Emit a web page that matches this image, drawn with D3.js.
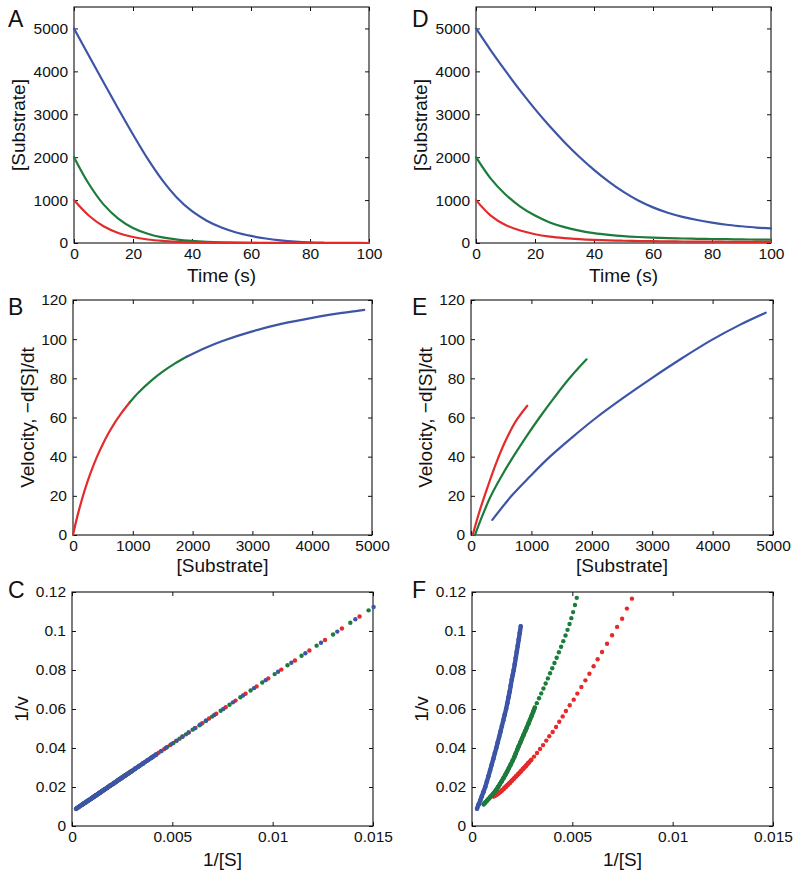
<!DOCTYPE html>
<html><head><meta charset="utf-8">
<script src="https://cdn.jsdelivr.net/npm/d3@7"></script>
<style>
body{margin:0;background:#fff}
text{font-family:"Liberation Sans",Arial,Helvetica,sans-serif;fill:#111}
</style>
</head><body><svg id="c" width="800" height="876"></svg>
<script>
const BLUE="#3d55a6", GREEN="#1c7c3c", RED="#e52a2b";

// ---------- Panel A / D : time courses ----------
const time = [0,5,10,15,20,25,30,35,40,45,50,55,60,65,70,75,80,85,90,95,100];
const aBlue  = [5000,4370,3745,3130,2530,1960,1460,1050,740,520,360,245,165,105,62,32,14,6,2,1,0];
const aGreen = [2000,1380,900,570,350,215,130,80,48,28,16,9,5,3,1,0,0,0,0,0,0];
const aRed   = [1000,640,390,235,140,82,48,28,16,9,5,3,1,0,0,0,0,0,0,0,0];
const dBlue  = [5000,4490,4010,3550,3120,2720,2350,2010,1705,1430,1190,990,830,705,610,535,475,425,390,360,340];
const dGreen = [2000,1500,1130,850,640,480,370,290,230,190,160,140,125,114,105,98,93,88,84,80,78];
const dRed   = [1000,640,420,290,205,150,115,90,72,60,52,46,42,38,35,33,31,29,28,26,25];

// ---------- Panel B : velocity vs substrate (one curve, three colours) ----------
const bRedS   = [0,50,100,200,300,400,500,600,700,800,950];
const bRedV   = [0,6.7,12.7,23.3,32.2,39.9,46.5,52.3,57.4,61.9,67.8];
const bGreenS = [950,1100,1300,1500,1700,1900];
const bGreenV = [67.8,72.9,78.6,83.4,87.5,91.0];
const bBlueS  = [1900,2200,2500,3000,3500,4000,4500,4870];
const bBlueV  = [91.0,95.4,99.1,104.0,107.9,110.9,113.4,115.0];

// ---------- Panel E ----------
const eRedS   = [28,150,280,420,570,740,932];
const eRedV   = [0,13,25,37,48,58,66];
const eGreenS = [66,190,330,505,700,910,1135,1375,1630,1913];
const eGreenV = [0,10,20,30,40,50,60,70,80,89.7];
const eBlueS  = [353,672,980,1307,1680,2078,2520,2988,3480,3980,4450,4879];
const eBlueV  = [7.7,20,30,40,50,60,70,80,90,99.5,107.3,113.5];

// ---------- Panel C : Lineweaver-Burk (1/[S], 1/v) ----------
const cRedX = [0.00100,0.00110,0.00120,0.00132,0.00145,0.00159,0.00174,0.00190,0.00207,0.00225,0.00244,0.00264,0.00285,0.00307,0.00330,0.00354,0.00379,0.00405,0.00432,0.00460,0.00489,0.00519,0.00550,0.00582,0.00615,0.00649,0.00683,0.00719,0.00766,0.00815,0.00865,0.00920,0.00978,0.01043,0.01111,0.01183,0.01261,0.01345,0.01433];
const cRedY = [0.0144,0.0151,0.0158,0.0166,0.0175,0.0185,0.0195,0.0207,0.0218,0.0231,0.0244,0.0258,0.0273,0.0288,0.0304,0.0321,0.0339,0.0357,0.0376,0.0395,0.0415,0.0436,0.0458,0.0480,0.0503,0.0527,0.0551,0.0576,0.0609,0.0643,0.0678,0.0716,0.0757,0.0802,0.0849,0.0900,0.0954,0.1013,0.1074];
const cGreenX = [0.00050,0.00055,0.00061,0.00068,0.00076,0.00085,0.00095,0.00106,0.00118,0.00131,0.00145,0.00160,0.00176,0.00193,0.00211,0.00230,0.00250,0.00271,0.00293,0.00316,0.00340,0.00365,0.00391,0.00418,0.00446,0.00475,0.00505,0.00536,0.00568,0.00601,0.00635,0.00666,0.00698,0.00741,0.00785,0.00839,0.00890,0.00948,0.01010,0.01074,0.01144,0.01219,0.01301,0.01387,0.01478];
const cGreenY = [0.0109,0.0112,0.0117,0.0121,0.0127,0.0133,0.0140,0.0148,0.0156,0.0165,0.0175,0.0186,0.0197,0.0209,0.0221,0.0235,0.0249,0.0263,0.0279,0.0295,0.0311,0.0329,0.0347,0.0366,0.0385,0.0406,0.0426,0.0448,0.0470,0.0494,0.0517,0.0539,0.0561,0.0591,0.0622,0.0660,0.0695,0.0736,0.0779,0.0824,0.0873,0.0925,0.0982,0.1042,0.1106];
const cBlueX = [0.00020,0.00024,0.00028,0.00033,0.00038,0.00044,0.00050,0.00057,0.00064,0.00072,0.00080,0.00089,0.00098,0.00108,0.00118,0.00129,0.00140,0.00152,0.00164,0.00177,0.00190,0.00204,0.00218,0.00233,0.00248,0.00264,0.00280,0.00297,0.00315,0.00334,0.00354,0.00375,0.00397,0.00420,0.00444,0.00469,0.00495,0.00522,0.00551,0.00581,0.00612,0.00640,0.00669,0.00709,0.00754,0.00802,0.00852,0.00907,0.00965,0.01027,0.01093,0.01163,0.01241,0.01322,0.01412,0.01503];
const cBlueY = [0.0088,0.0091,0.0094,0.0097,0.0101,0.0105,0.0109,0.0114,0.0119,0.0124,0.0130,0.0136,0.0142,0.0149,0.0156,0.0164,0.0172,0.0180,0.0188,0.0198,0.0207,0.0216,0.0226,0.0237,0.0247,0.0258,0.0269,0.0281,0.0294,0.0307,0.0321,0.0336,0.0351,0.0367,0.0384,0.0401,0.0420,0.0438,0.0459,0.0480,0.0501,0.0521,0.0541,0.0569,0.0600,0.0634,0.0669,0.0707,0.0748,0.0791,0.0837,0.0886,0.0940,0.0997,0.1060,0.1123];

// ---------- Panel F ----------
const fBlueX = [0.00025,0.00033,0.00041,0.00049,0.00057,0.00066,0.00074,0.00082,0.00090,0.00098,0.00106,0.00114,0.00121,0.00128,0.00135,0.00142,0.00149,0.00156,0.00163,0.00170,0.00176,0.00182,0.00188,0.00193,0.00198,0.00203,0.00208,0.00213,0.00218,0.00223,0.00228,0.00233,0.00238,0.00243];
const fBlueY = [0.0089,0.0110,0.0131,0.0153,0.0175,0.0200,0.0228,0.0256,0.0285,0.0314,0.0344,0.0374,0.0400,0.0428,0.0456,0.0484,0.0513,0.0542,0.0571,0.0600,0.0630,0.0660,0.0690,0.0720,0.0750,0.0775,0.0800,0.0830,0.0862,0.0893,0.0925,0.0957,0.0990,0.1024];
const fGreenX = [0.00058,0.00066,0.00074,0.00082,0.00090,0.00098,0.00106,0.00114,0.00122,0.00130,0.00139,0.00148,0.00157,0.00166,0.00175,0.00184,0.00193,0.00202,0.00211,0.00218,0.00225,0.00233,0.00241,0.00249,0.00257,0.00265,0.00273,0.00281,0.00289,0.00297,0.00305,0.00313,0.00323,0.00334,0.00345,0.00356,0.00367,0.00378,0.00389,0.00400,0.00411,0.00422,0.00433,0.00444,0.00455,0.00466,0.00476,0.00486,0.00495,0.00504,0.00513,0.00522];
const fGreenY = [0.0111,0.0120,0.0129,0.0138,0.0147,0.0156,0.0166,0.0176,0.0187,0.0200,0.0215,0.0230,0.0246,0.0262,0.0279,0.0297,0.0315,0.0334,0.0354,0.0372,0.0390,0.0410,0.0429,0.0448,0.0467,0.0486,0.0505,0.0525,0.0545,0.0565,0.0586,0.0607,0.0630,0.0655,0.0680,0.0705,0.0731,0.0757,0.0783,0.0809,0.0836,0.0863,0.0891,0.0919,0.0948,0.0977,0.1006,0.1036,0.1066,0.1097,0.1133,0.1170];
const fRedX = [0.00108,0.00116,0.00124,0.00132,0.00141,0.00150,0.00159,0.00168,0.00178,0.00188,0.00198,0.00209,0.00220,0.00231,0.00243,0.00255,0.00268,0.00281,0.00295,0.00309,0.00324,0.00339,0.00354,0.00370,0.00385,0.00402,0.00419,0.00435,0.00452,0.00468,0.00487,0.00507,0.00525,0.00545,0.00565,0.00585,0.00606,0.00626,0.00648,0.00673,0.00698,0.00723,0.00748,0.00772,0.00797];
const fRedY = [0.0152,0.0157,0.0162,0.0168,0.0175,0.0183,0.0192,0.0201,0.0211,0.0221,0.0232,0.0243,0.0255,0.0267,0.0280,0.0294,0.0308,0.0323,0.0339,0.0356,0.0374,0.0395,0.0415,0.0438,0.0460,0.0482,0.0508,0.0535,0.0562,0.0590,0.0619,0.0648,0.0679,0.0713,0.0747,0.0781,0.0819,0.0855,0.0892,0.0935,0.0978,0.1021,0.1063,0.1115,0.1166];

// ---------- tick labels ----------
const timeTicks = [0,20,40,60,80,100];
const timeTickLabels = ["0","20","40","60","80","100"];
const subTicks = [0,1000,2000,3000,4000,5000];
const subTickLabels = ["0","1000","2000","3000","4000","5000"];
const velTicks = [0,20,40,60,80,100,120];
const velTickLabels = ["0","20","40","60","80","100","120"];
const invSTicks = [0,0.005,0.01,0.015];
const invSTickLabels = ["0","0.005","0.01","0.015"];
const invVTicks = [0,0.02,0.04,0.06,0.08,0.1,0.12];
const invVTickLabels = ["0","0.02","0.04","0.06","0.08","0.1","0.12"];

const svg = d3.select("#c");
const zip = (xs, ys) => xs.map((x,i)=>[x, ys[i]]);
const R = 2.2;

function panel(o){
  const [x0,x1,y0,y1] = o.box;
  const x = d3.scaleLinear().domain(o.xd).range([x0,x1]);
  const y = d3.scaleLinear().domain(o.yd).range([y1,y0]);
  const g = svg.append("g");
  const TS = 4;
  const fmt = (ticks, labels) => (d => labels[ticks.indexOf(d)]);
  const ax = (gen, tr) => g.append("g").attr("transform", tr).call(gen)
      .call(s => s.select(".domain").remove())
      .call(s => s.selectAll("line").attr("stroke","#111"))
      .call(s => s.selectAll("text").attr("font-size","15.5px").attr("fill","#111")
          .attr("font-family","Liberation Sans, Arial, sans-serif"));
  ax(d3.axisBottom(x).tickValues(o.xt).tickFormat(fmt(o.xt,o.xl)).tickSize(-TS).tickPadding(5), `translate(0,${y1})`);
  ax(d3.axisTop(x).tickValues(o.xt).tickFormat("").tickSize(-TS), `translate(0,${y0})`);
  ax(d3.axisLeft(y).tickValues(o.yt).tickFormat(fmt(o.yt,o.yl)).tickSize(-TS).tickPadding(6), `translate(${x0},0)`);
  ax(d3.axisRight(y).tickValues(o.yt).tickFormat("").tickSize(-TS), `translate(${x1},0)`);
  g.append("rect").attr("x",x0).attr("y",y0).attr("width",x1-x0).attr("height",y1-y0)
    .attr("fill","none").attr("stroke","#111").attr("stroke-width",1.1);

  const line = d3.line().x(d=>x(d[0])).y(d=>y(d[1])).curve(d3.curveCatmullRom.alpha(0.5));
  (o.lines||[]).forEach(s => {
    g.append("path").datum(s.data).attr("d", line).attr("fill","none")
      .attr("stroke", s.color).attr("stroke-width", 2.2).attr("stroke-linejoin","round").attr("stroke-linecap","round");
  });
  (o.dots||[]).forEach(s => {
    // where consecutive samples overlap on screen, fill the gap so the run reads as a solid band
    const px = s.data.map(d => [x(d[0]), y(d[1])]);
    const segs = [];
    for (let i = 1; i < px.length; i++) {
      if (Math.hypot(px[i][0]-px[i-1][0], px[i][1]-px[i-1][1]) < s.band) segs.push([px[i-1], px[i]]);
    }
    g.append("g").selectAll("line").data(segs).join("line")
      .attr("x1",d=>d[0][0]).attr("y1",d=>d[0][1]).attr("x2",d=>d[1][0]).attr("y2",d=>d[1][1])
      .attr("stroke", s.color).attr("stroke-width", 2*R).attr("stroke-linecap","round");
    g.append("g").selectAll("circle").data(s.data).join("circle")
      .attr("cx", d=>x(d[0])).attr("cy", d=>y(d[1])).attr("r", R).attr("fill", s.color);
  });
  // labels
  g.append("text").attr("x",(x0+x1)/2).attr("y",o.xLabelY).attr("text-anchor","middle")
    .attr("font-size","19px").text(o.xLabel);
  g.append("text").attr("transform",`translate(${o.yLabelX},${(y0+y1)/2}) rotate(-90)`)
    .attr("text-anchor","middle").attr("font-size","19px").text(o.yLabel);
  g.append("text").attr("x",o.letter[1]).attr("y",o.letter[2]).attr("font-size","23px").text(o.letter[0]);
}

panel({box:[74,369,7,243], xd:[0,100], yd:[0,5500], xt:timeTicks, xl:timeTickLabels, yt:subTicks, yl:subTickLabels,
  xLabel:"Time (s)", xLabelY:282, yLabel:"[Substrate]", yLabelX:25, letter:["A",8,27],
  lines:[{data:zip(time,aBlue),color:BLUE},{data:zip(time,aGreen),color:GREEN},{data:zip(time,aRed),color:RED}]});
panel({box:[476,771,7,243], xd:[0,100], yd:[0,5500], xt:timeTicks, xl:timeTickLabels, yt:subTicks, yl:subTickLabels,
  xLabel:"Time (s)", xLabelY:282, yLabel:"[Substrate]", yLabelX:427, letter:["D",412,27],
  lines:[{data:zip(time,dBlue),color:BLUE},{data:zip(time,dGreen),color:GREEN},{data:zip(time,dRed),color:RED}]});
panel({box:[73,372,300,535], xd:[0,5000], yd:[0,120], xt:subTicks, xl:subTickLabels, yt:velTicks, yl:velTickLabels,
  xLabel:"[Substrate]", xLabelY:572, yLabel:"Velocity, \u2212d[S]/dt", yLabelX:34, letter:["B",8,315],
  lines:[{data:zip(bRedS,bRedV),color:RED},{data:zip(bGreenS,bGreenV),color:GREEN},{data:zip(bBlueS,bBlueV),color:BLUE}]});
panel({box:[471,773,300,535], xd:[0,5000], yd:[0,120], xt:subTicks, xl:subTickLabels, yt:velTicks, yl:velTickLabels,
  xLabel:"[Substrate]", xLabelY:572, yLabel:"Velocity, \u2212d[S]/dt", yLabelX:432, letter:["E",412,315],
  lines:[{data:zip(eRedS,eRedV),color:RED},{data:zip(eGreenS,eGreenV),color:GREEN},{data:zip(eBlueS,eBlueV),color:BLUE}]});
panel({box:[72,373,592,826], xd:[0,0.015], yd:[0,0.12], xt:invSTicks, xl:invSTickLabels, yt:invVTicks, yl:invVTickLabels,
  xLabel:"1/[S]", xLabelY:866, yLabel:"1/v", yLabelX:28, letter:["C",8,598],
  dots:[{data:zip(cRedX,cRedY),color:RED,band:5.5},{data:zip(cGreenX,cGreenY),color:GREEN,band:5.5},{data:zip(cBlueX,cBlueY),color:BLUE,band:5.8}]});
panel({box:[472,773,592,826], xd:[0,0.015], yd:[0,0.12], xt:invSTicks, xl:invSTickLabels, yt:invVTicks, yl:invVTickLabels,
  xLabel:"1/[S]", xLabelY:866, yLabel:"1/v", yLabelX:428, letter:["F",412,598],
  dots:[{data:zip(fRedX,fRedY),color:RED,band:4.2},{data:zip(fGreenX,fGreenY),color:GREEN,band:4.8},{data:zip(fBlueX,fBlueY),color:BLUE,band:7}]});
</script>
</body></html>
